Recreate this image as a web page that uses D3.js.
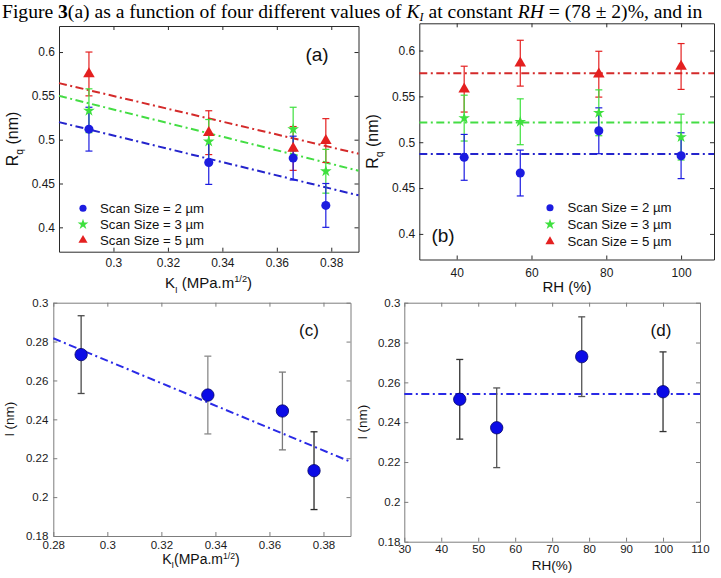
<!DOCTYPE html>
<html><head><meta charset="utf-8">
<script src="https://cdn.jsdelivr.net/npm/d3@7"></script>
<style>
body{margin:0;background:#fff}
svg{display:block}
text{font-family:"Liberation Sans",Arial,sans-serif}
</style></head><body>
<svg id="c" width="721" height="578"></svg>
<script>
// ---------------- data ----------------
const seriesNames = ["Scan Size = 2 \u00b5m", "Scan Size = 3 \u00b5m", "Scan Size = 5 \u00b5m"];

// panel (a): Rq vs KI
const kiA = [0.291, 0.335, 0.366, 0.378];
const rqA_2um = [0.512, 0.474, 0.479, 0.425];
const rqA_3um = [0.533, 0.498, 0.512, 0.464];
const rqA_5um = [0.575, 0.508, 0.490, 0.499];
const rqErr = 0.025;
// linear fits: values at KI = 0.28 and KI = 0.39
const fitA_2um = [0.520, 0.4365];
const fitA_3um = [0.550, 0.4646];
const fitA_5um = [0.5645, 0.484];

// panel (b): Rq vs RH
const rhB = [42, 57, 78, 100];
const rqB_2um = [0.4835, 0.4664, 0.5125, 0.4853];
const rqB_3um = [0.5263, 0.5223, 0.5321, 0.5056];
const rqB_5um = [0.5579, 0.5862, 0.5742, 0.5826];
const meanB = [0.4871, 0.5216, 0.5753];

// panel (c): l vs KI
const kiC = [0.2903, 0.3372, 0.3648, 0.3765];
const lC = [0.2733, 0.2525, 0.2443, 0.2136];
const lErr = 0.02;
const fitC = [0.2817, 0.2182];

// panel (d): l vs RH
const rhD = [45, 55, 78, 100];
const lD = [0.2515, 0.2372, 0.2729, 0.2553];
const meanD = 0.2541;

// ticks
const xTicksA = [0.3, 0.32, 0.34, 0.36, 0.38];
const yTicksAB = [0.4, 0.45, 0.5, 0.55, 0.6];
const xTicksB = [40, 60, 80, 100];
const xTicksC = [0.28, 0.3, 0.32, 0.34, 0.36, 0.38];
const yTicksCD = [0.18, 0.2, 0.22, 0.24, 0.26, 0.28, 0.3];
const xTicksD = [30, 40, 50, 60, 70, 80, 90, 100, 110];

// ---------------- styles ----------------
const colBlue = "#1c1ce0", colGreen = "#3ee03e", colRed = "#e42020";
const fitCols = ["#2424cc", "#44dd44", "#d42a2a"];
const dashDot = "8,3.5,2,3.5";

const svg = d3.select("#c");
const fmt = d3.format("~g");

// ---------------- caption ----------------
const cap = svg.append("text").attr("x", 2).attr("y", 17.6)
  .style("font-family", "'Liberation Serif','Times New Roman',serif").style("font-size", "19.6px").attr("fill", "#000");
cap.append("tspan").text("Figure ");
cap.append("tspan").attr("font-weight", "bold").text("3");
cap.append("tspan").text("(a) as a function of four different values of ");
cap.append("tspan").attr("font-style", "italic").text("K");
cap.append("tspan").attr("font-style", "italic").attr("font-size", "12px").attr("dy", 3.5).text("I");
cap.append("tspan").attr("dy", -3.5).text(" at constant ");
cap.append("tspan").attr("font-style", "italic").text("RH");
cap.append("tspan").text(" = (78 \u00b1 2)%, and in");

// ---------------- helpers ----------------
function axes(g, x, y, o) {
  const mk = (gen, tr, pad, labels) => {
    const a = g.append("g").attr("transform", tr).call(gen.tickSize(-4).tickSizeOuter(0).tickPadding(pad));
    if (!labels) a.selectAll("text").remove();
    a.select(".domain").attr("stroke", o.axisColor);
    a.selectAll(".tick line").attr("stroke", o.axisColor);
    a.selectAll("text").attr("fill", "#1a1a1a").style("font-size", o.tickFont + "px");
    return a;
  };
  mk(d3.axisBottom(x).tickValues(o.xTicks).tickFormat(fmt), `translate(0,${o.bottom})`, o.xPad, true);
  mk(d3.axisTop(x).tickValues(o.xTicks), `translate(0,${o.top})`, 0, false);
  mk(d3.axisLeft(y).tickValues(o.yTicks).tickFormat(fmt), `translate(${o.left},0)`, o.yPad, true);
  mk(d3.axisRight(y).tickValues(o.yTicks), `translate(${o.right},0)`, 0, false);
}

function errBars(g, x, y, xs, vs, err, color, cap, width) {
  xs.forEach((xv, i) => {
    const c = Array.isArray(color) ? color[i] : color;
    const cx = x(xv), y0 = y(vs[i] - err), y1 = y(vs[i] + err);
    g.append("line").attr("x1", cx).attr("x2", cx).attr("y1", y0).attr("y2", y1).attr("stroke", c).attr("stroke-width", width);
    [y0, y1].forEach(yy => g.append("line").attr("x1", cx - cap).attr("x2", cx + cap).attr("y1", yy).attr("y2", yy).attr("stroke", c).attr("stroke-width", width));
  });
}

const symCircle = d3.symbol().type(d3.symbolCircle).size(64);
const symStar = d3.symbol().type(d3.symbolStar).size(42);
const symTri = d3.symbol().type(d3.symbolTriangle).size(58);
const markerDefs = [
  {sym: symCircle, col: colBlue},
  {sym: symStar, col: colGreen},
  {sym: symTri, col: colRed}
];

function markers(g, x, y, xs, vs, m) {
  xs.forEach((xv, i) => g.append("path").attr("d", m.sym()).attr("fill", m.col)
    .attr("transform", `translate(${x(xv)},${y(vs[i])})`));
}

function yLabel(g, cx, cy, size, main, sub, rest) {
  const t = g.append("text").attr("transform", `translate(${cx},${cy}) rotate(-90)`)
    .attr("text-anchor", "middle").style("font-size", size + "px").attr("fill", "#111");
  t.append("tspan").text(main);
  if (sub) {
    t.append("tspan").attr("dy", size * 0.3).style("font-size", (size * 0.65) + "px").text(sub);
    t.append("tspan").attr("dy", -size * 0.3).text(rest);
  } else t.append("tspan").text(rest);
}

function kiLabel(g, cx, cy, size, gap) {
  const t = g.append("text").attr("x", cx).attr("y", cy).attr("text-anchor", "middle")
    .style("font-size", size + "px").attr("fill", "#111");
  t.append("tspan").text("K");
  t.append("tspan").attr("dy", size * 0.3).style("font-size", (size * 0.62) + "px").text("I");
  t.append("tspan").attr("dy", -size * 0.3).text(gap + "(MPa.m");
  t.append("tspan").attr("dy", -size * 0.38).style("font-size", (size * 0.62) + "px").text("1/2");
  t.append("tspan").attr("dy", size * 0.38).text(")");
}

function legend(g, lx, tx, ys) {
  seriesNames.forEach((name, i) => {
    g.append("path").attr("d", markerDefs[i].sym.size(i === 0 ? 40 : 36)()).attr("fill", markerDefs[i].col)
      .attr("transform", `translate(${lx},${ys[i]})`);
    g.append("text").attr("x", tx).attr("y", ys[i] + 4.6).style("font-size", "13.2px").attr("fill", "#111").text(name);
  });
  symCircle.size(64); symStar.size(42); symTri.size(58);
}

// ---------------- panel (a) ----------------
{
  const o = {left: 59, right: 358.5, top: 26, bottom: 251.7, xTicks: xTicksA, yTicks: yTicksAB,
    axisColor: "#2a2a2a", tickFont: 12, xPad: 7, yPad: 4};
  const x = d3.scaleLinear().domain([0.28, 0.39]).range([o.left, o.right]);
  const y = d3.scaleLinear().domain([0.3722, 0.6297]).range([o.bottom, o.top]);
  const g = svg.append("g");
  axes(g, x, y, o);
  const series = [rqA_2um, rqA_3um, rqA_5um];
  const fits = [fitA_2um, fitA_3um, fitA_5um];
  fits.forEach((f, i) => g.append("line").attr("x1", x(0.28)).attr("x2", x(0.39))
    .attr("y1", y(f[0])).attr("y2", y(f[1])).attr("stroke", fitCols[i]).attr("stroke-width", 2).attr("stroke-dasharray", dashDot));
  [2, 1, 0].forEach(i => errBars(g, x, y, kiA, series[i], rqErr, markerDefs[i].col, 3.5, 1.2));
  [2, 1, 0].forEach(i => markers(g, x, y, kiA, series[i], markerDefs[i]));
  g.append("text").attr("x", 317).attr("y", 61).attr("text-anchor", "middle").style("font-size", "19px").attr("fill", "#111").text("(a)");
  legend(g, 83, 100, [208.3, 224.3, 240.2]);
  yLabel(g, 18, 139, 16, "R", "q", " (nm)");
  kiLabel(g, 208.5, 288, 15, " ");
}

// ---------------- panel (b) ----------------
{
  const o = {left: 419.3, right: 714, top: 23.3, bottom: 259.5, xTicks: xTicksB, yTicks: yTicksAB,
    axisColor: "#2a2a2a", tickFont: 12, xPad: 9, yPad: 4};
  const x = d3.scaleLinear().domain([30, 108.8]).range([o.left, o.right]);
  const y = d3.scaleLinear().domain([0.3721, 0.6297]).range([o.bottom, o.top]);
  const g = svg.append("g");
  axes(g, x, y, o);
  const series = [rqB_2um, rqB_3um, rqB_5um];
  meanB.forEach((m, i) => g.append("line").attr("x1", x(30)).attr("x2", x(108.8))
    .attr("y1", y(m)).attr("y2", y(m)).attr("stroke", fitCols[i]).attr("stroke-width", 2).attr("stroke-dasharray", dashDot));
  [2, 1, 0].forEach(i => errBars(g, x, y, rhB, series[i], rqErr, markerDefs[i].col, 3.5, 1.2));
  [2, 1, 0].forEach(i => markers(g, x, y, rhB, series[i], markerDefs[i]));
  g.append("text").attr("x", 443).attr("y", 242).attr("text-anchor", "middle").style("font-size", "19px").attr("fill", "#111").text("(b)");
  legend(g, 550, 567.5, [207.7, 224.3, 241.5]);
  yLabel(g, 378, 141.5, 16, "R", "q", " (nm)");
  g.append("text").attr("x", 567).attr("y", 291.5).attr("text-anchor", "middle").style("font-size", "15px").attr("fill", "#111").text("RH (%)");
}

// ---------------- panel (c) ----------------
{
  const o = {left: 53.3, right: 350.5, top: 302.7, bottom: 536, xTicks: xTicksC, yTicks: yTicksCD,
    axisColor: "#7d7d7d", tickFont: 11.5, xPad: 5, yPad: 5};
  const x = d3.scaleLinear().domain([0.28, 0.39]).range([o.left, o.right]);
  const y = d3.scaleLinear().domain([0.18, 0.3]).range([o.bottom, o.top]);
  const g = svg.append("g");
  axes(g, x, y, o);
  g.append("line").attr("x1", x(0.28)).attr("x2", x(0.39)).attr("y1", y(fitC[0])).attr("y2", y(fitC[1]))
    .attr("stroke", "#2a2ae6").attr("stroke-width", 2).attr("stroke-dasharray", dashDot);
  errBars(g, x, y, kiC, lC, lErr, ["#4a4a4a", "#8a8a8a", "#7a7a7a", "#2a2a2a"], 3.5, 1.3);
  kiC.forEach((xv, i) => g.append("circle").attr("cx", x(xv)).attr("cy", y(lC[i])).attr("r", 6.2)
    .attr("fill", "#0b0be6").attr("stroke", "#06066a").attr("stroke-width", 0.8));
  g.append("text").attr("x", 309).attr("y", 335.5).attr("text-anchor", "middle").style("font-size", "17px").attr("fill", "#111").text("(c)");
  yLabel(g, 14, 419, 13.5, "l", null, " (nm)");
  kiLabel(g, 201, 564, 14, "");
}

// ---------------- panel (d) ----------------
{
  const o = {left: 404.3, right: 700, top: 302.7, bottom: 541.7, xTicks: xTicksD, yTicks: yTicksCD,
    axisColor: "#7d7d7d", tickFont: 11.5, xPad: 3.5, yPad: 4};
  const x = d3.scaleLinear().domain([30, 110]).range([o.left, o.right]);
  const y = d3.scaleLinear().domain([0.18, 0.3]).range([o.bottom, o.top]);
  const g = svg.append("g");
  axes(g, x, y, o);
  g.append("line").attr("x1", x(30)).attr("x2", x(110)).attr("y1", y(meanD)).attr("y2", y(meanD))
    .attr("stroke", "#2a2ae6").attr("stroke-width", 2).attr("stroke-dasharray", dashDot);
  errBars(g, x, y, rhD, lD, lErr, ["#333", "#555", "#555", "#333"], 3.5, 1.3);
  rhD.forEach((xv, i) => g.append("circle").attr("cx", x(xv)).attr("cy", y(lD[i])).attr("r", 6.2)
    .attr("fill", "#0b0be6").attr("stroke", "#06066a").attr("stroke-width", 0.8));
  g.append("text").attr("x", 661).attr("y", 335.5).attr("text-anchor", "middle").style("font-size", "17px").attr("fill", "#111").text("(d)");
  yLabel(g, 367, 422, 13.5, "l", null, " (nm)");
  g.append("text").attr("x", 552).attr("y", 569.5).attr("text-anchor", "middle").style("font-size", "13.5px").attr("fill", "#111").text("RH(%)");
}
</script>
</body></html>
